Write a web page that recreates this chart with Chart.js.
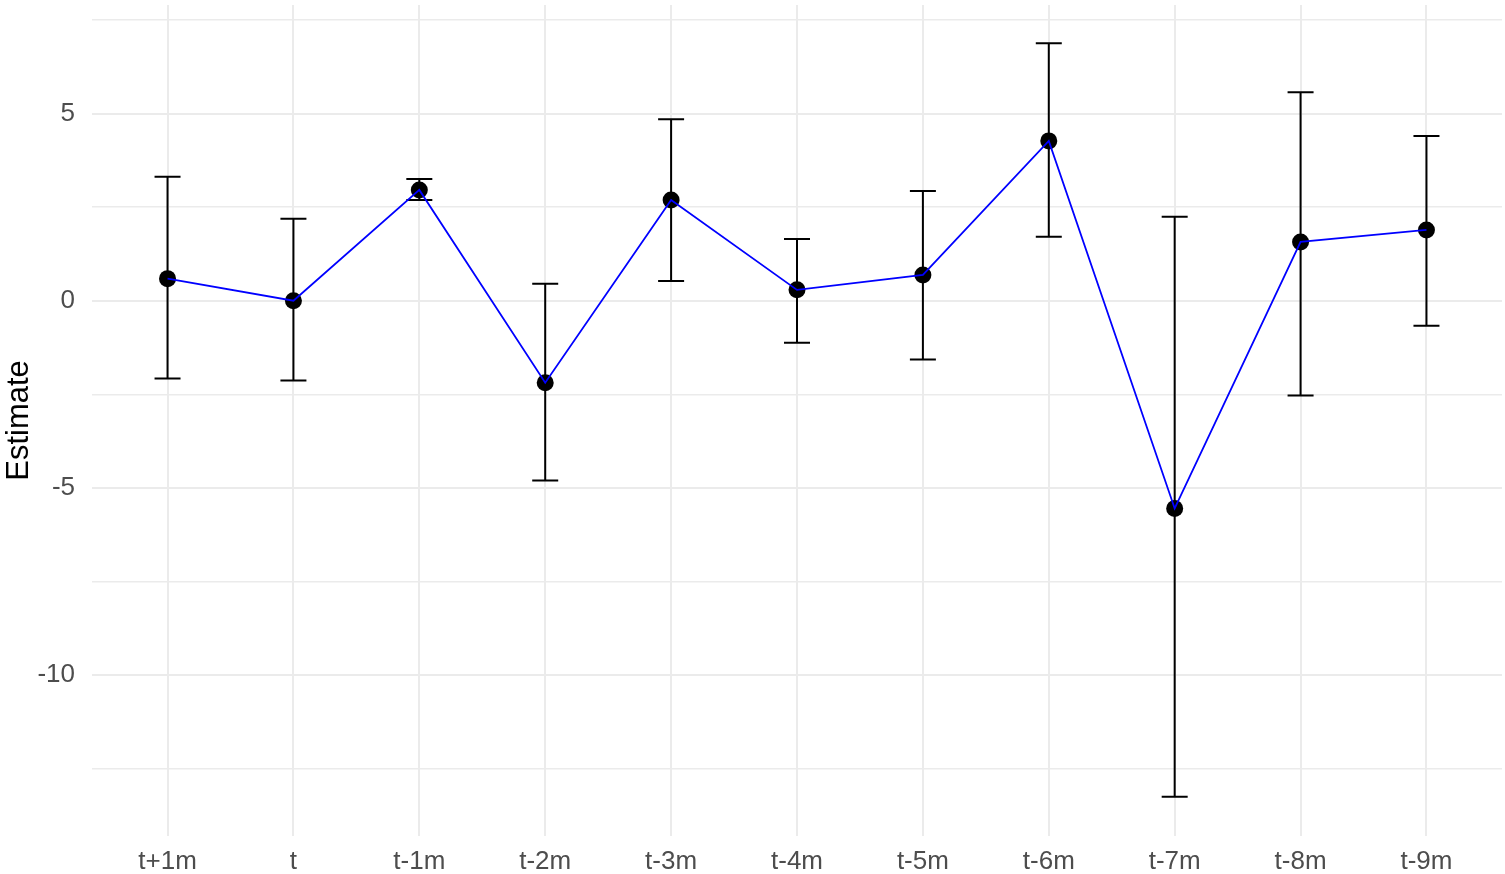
<!DOCTYPE html>
<html>
<head>
<meta charset="utf-8">
<script src="https://cdn.jsdelivr.net/npm/chart.js@4"></script>
<style>
  html, body { margin: 0; padding: 0; background: #fff; overflow: hidden; }
  #wrap { width: 1505px; height: 874px; }
</style>
</head>
<body>
<div id="wrap"><canvas id="chart" width="1505" height="874"></canvas></div>
<script>
// data
const categories = ["t+1m", "t", "t-1m", "t-2m", "t-3m", "t-4m", "t-5m", "t-6m", "t-7m", "t-8m", "t-9m"];
const estimates = [0.59, 0.0, 2.96, -2.19, 2.69, 0.29, 0.69, 4.27, -5.55, 1.57, 1.89];
const upperCI = [3.31, 2.19, 3.25, 0.45, 4.85, 1.65, 2.93, 6.88, 2.24, 5.57, 4.40];
const lowerCI = [-2.08, -2.13, 2.69, -4.80, 0.53, -1.12, -1.57, 1.71, -13.25, -2.53, -0.67];
const yTicks = [-12.5, -10, -7.5, -5, -2.5, 0, 2.5, 5, 7.5];

const points = estimates.map((v, i) => ({ x: i, y: v }));
const FONT = 'Liberation Sans, Arial, sans-serif';

// error bars drawn with the chart's own scales
const errorBars = {
  id: 'errorBars',
  beforeDatasetsDraw(chart) {
    const { ctx, scales: { x, y } } = chart;
    ctx.save();
    ctx.strokeStyle = '#000';
    ctx.lineWidth = 2;
    estimates.forEach((v, i) => {
      const px = x.getPixelForValue(i);
      const top = y.getPixelForValue(upperCI[i]);
      const bot = y.getPixelForValue(lowerCI[i]);
      const half = 13;
      ctx.beginPath();
      ctx.moveTo(px, top); ctx.lineTo(px, bot);
      ctx.moveTo(px - half, top); ctx.lineTo(px + half, top);
      ctx.moveTo(px - half, bot); ctx.lineTo(px + half, bot);
      ctx.stroke();
    });
    ctx.restore();
  }
};

const ctx = document.getElementById('chart').getContext('2d');
new Chart(ctx, {
  type: 'line',
  data: {
    datasets: [
      {
        label: 'line',
        data: points,
        borderColor: '#0000ff',
        borderWidth: 1.8,
        pointRadius: 0,
        tension: 0,
        order: 0
      },
      {
        label: 'points',
        data: points,
        showLine: false,
        pointRadius: 8.5,
        pointBackgroundColor: '#000',
        pointBorderColor: '#000',
        pointBorderWidth: 0,
        order: 1
      }
    ]
  },
  options: {
    responsive: false,
    animation: false,
    layout: { autoPadding: false, padding: { top: 5, right: 3, bottom: 0, left: 1 } },
    plugins: { legend: { display: false }, tooltip: { enabled: false } },
    scales: {
      x: {
        type: 'linear',
        min: -0.6,
        max: 10.6,
        afterBuildTicks: (axis) => { axis.ticks = categories.map((c, i) => ({ value: i })); },
        afterFit: (axis) => { axis.height = 38; axis.paddingLeft = 0; axis.paddingRight = 0; },
        ticks: {
          callback: (v) => categories[v],
          color: '#4d4d4d',
          font: { family: FONT, size: 26 },
          padding: 10,
          maxRotation: 0,
          autoSkip: false
        },
        grid: { color: '#ebebeb', lineWidth: 2, drawTicks: false },
        border: { display: false }
      },
      y: {
        min: -14.3,
        max: 7.9,
        afterBuildTicks: (axis) => { axis.ticks = yTicks.map(v => ({ value: v })); },
        afterFit: (axis) => { axis.width = 91; axis.paddingTop = 0; axis.paddingBottom = 0; },
        ticks: {
          callback: (v) => (v % 5 === 0 ? String(v) : ''),
          color: '#4d4d4d',
          font: { family: FONT, size: 26 },
          padding: 17
        },
        title: {
          display: true,
          text: 'Estimate',
          color: '#000',
          font: { family: FONT, size: 31 },
          padding: { top: 0, bottom: 0 }
        },
        grid: {
          color: '#ebebeb',
          lineWidth: (c) => (c.tick && c.tick.value % 5 === 0 ? 2 : 1.5),
          drawTicks: false
        },
        border: { display: false }
      }
    }
  },
  plugins: [errorBars]
});
</script>
</body>
</html>
